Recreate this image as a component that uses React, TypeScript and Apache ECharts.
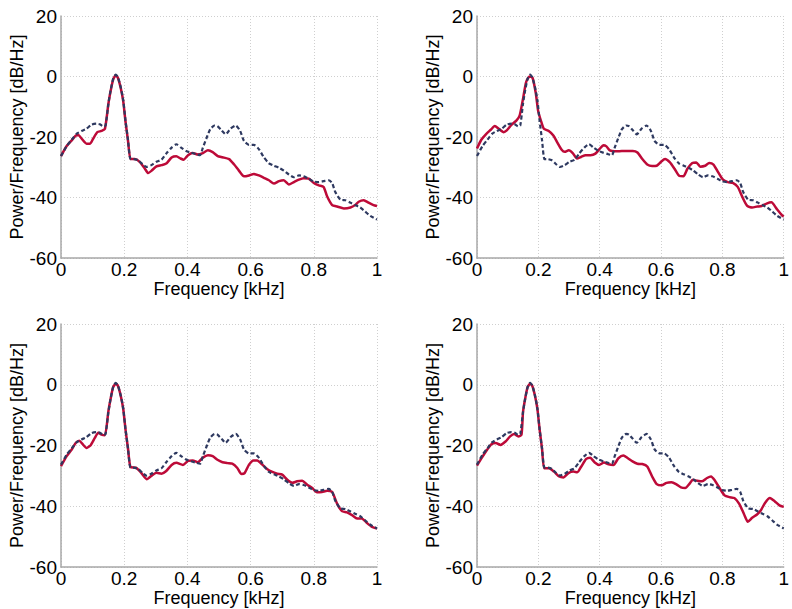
import React, { useEffect, useRef } from "react";
import * as echarts from "echarts";

// Shared reference spectrum (dashed), [frequency kHz, dB/Hz]
const referencePsd: [number, number][] = [
  [0, -26.3], [0.018, -23], [0.034, -20.9], [0.05, -18.9], [0.065, -18], [0.08, -17.3], [0.097, -15.9],
  [0.112, -15.6], [0.123, -15.8], [0.134, -16.5], [0.141, -16.2], [0.15, -9], [0.157, -4.6], [0.165, -0.8],
  [0.173, 0.6], [0.18, -0.2], [0.189, -3.5], [0.197, -7.9], [0.204, -14.5], [0.212, -21], [0.22, -27.3],
  [0.23, -27.3], [0.244, -27.7], [0.258, -29], [0.27, -29.9], [0.286, -29.3], [0.302, -28.2], [0.318, -27.5],
  [0.333, -25.5], [0.35, -23.5], [0.365, -22.4], [0.38, -23.5], [0.396, -24.6], [0.412, -25.2], [0.428, -25.7],
  [0.44, -26], [0.449, -23.5], [0.46, -20.5], [0.472, -17.5], [0.486, -16.2], [0.495, -16.4], [0.508, -17.8],
  [0.521, -19.1], [0.537, -17.2], [0.553, -16.2], [0.567, -18], [0.579, -21.3], [0.595, -22.6], [0.61, -22.6],
  [0.626, -24], [0.642, -26.7], [0.658, -28.7], [0.674, -29.5], [0.69, -30.2], [0.705, -31.1], [0.721, -32.4],
  [0.737, -33.3], [0.753, -32.7], [0.768, -33], [0.784, -33.8], [0.8, -34.7], [0.816, -34.9], [0.831, -34.6],
  [0.847, -34.3], [0.858, -35.2], [0.868, -38.2], [0.884, -40.7], [0.9, -40.9], [0.916, -41.7], [0.931, -42.5],
  [0.947, -43.3], [0.963, -44.7], [0.979, -46.1], [1.0, -47.3],
];

// Top-left (solid red)
const psdTopLeft: [number, number][] = [
  [0, -26.3], [0.018, -23], [0.034, -21.1], [0.047, -19.5], [0.055, -19.3], [0.065, -20.5], [0.081, -22.2],
  [0.092, -22.2], [0.102, -20.5], [0.115, -18.4], [0.128, -18], [0.139, -17.3], [0.15, -9], [0.157, -4.8],
  [0.165, -1], [0.173, 0.3], [0.18, -0.4], [0.189, -3.8], [0.197, -8.2], [0.204, -14.8], [0.212, -21.2],
  [0.22, -27.3], [0.233, -27.3], [0.249, -28.2], [0.265, -30.4], [0.276, -31.9], [0.286, -31.2], [0.302, -29.7],
  [0.318, -29.3], [0.333, -28.8], [0.35, -26.8], [0.365, -26.4], [0.378, -27.1], [0.388, -27.5], [0.402, -26],
  [0.417, -25.3], [0.433, -25.8], [0.449, -25.3], [0.465, -24.4], [0.48, -25], [0.496, -26.3], [0.511, -26.7],
  [0.532, -27.3], [0.548, -29.1], [0.563, -31.1], [0.579, -33], [0.595, -32.7], [0.61, -32.2], [0.626, -32.7],
  [0.642, -33.5], [0.658, -34.3], [0.674, -35.4], [0.69, -34.6], [0.705, -34.3], [0.721, -35.7], [0.737, -34.9],
  [0.753, -34.1], [0.768, -33.6], [0.784, -33.8], [0.8, -35.2], [0.816, -36], [0.831, -36.5], [0.842, -39.6],
  [0.858, -42.5], [0.874, -43], [0.895, -43.6], [0.916, -43.3], [0.931, -42.5], [0.942, -41.4], [0.958, -40.9],
  [0.973, -41.7], [0.989, -42.5], [1.0, -42.8],
];

// Top-right (solid red)
const psdTopRight: [number, number][] = [
  [0, -23.8], [0.014, -20.9], [0.029, -19.1], [0.045, -17.6], [0.058, -16.4], [0.071, -17.3], [0.087, -18.4],
  [0.097, -17.8], [0.113, -15.9], [0.129, -14.5], [0.139, -12.9], [0.15, -7.4], [0.16, -1.9], [0.171, 0],
  [0.181, -0.4], [0.192, -5.7], [0.199, -11.2], [0.208, -14.5], [0.218, -17.3], [0.234, -18], [0.249, -19.5],
  [0.263, -22], [0.276, -24.2], [0.286, -24.9], [0.299, -24.4], [0.312, -25.3], [0.326, -27.1], [0.339, -26.6],
  [0.354, -26], [0.37, -26], [0.386, -25.5], [0.401, -23.8], [0.412, -22.7], [0.422, -23.1], [0.433, -24.4],
  [0.449, -24.7], [0.464, -24.7], [0.48, -24.6], [0.492, -24.6], [0.508, -24.6], [0.523, -25.1], [0.539, -27.3],
  [0.555, -29.1], [0.571, -29.6], [0.586, -29.5], [0.602, -28], [0.613, -27.3], [0.629, -28.4], [0.644, -30.5],
  [0.66, -32.9], [0.673, -33], [0.686, -30.5], [0.702, -28.6], [0.715, -28.4], [0.728, -29.8], [0.744, -29.5],
  [0.757, -28.6], [0.771, -29.1], [0.786, -31.6], [0.802, -34.1], [0.818, -34.9], [0.834, -35.2], [0.85, -36.5],
  [0.865, -39.8], [0.881, -42.8], [0.897, -43.3], [0.913, -43], [0.928, -42.8], [0.944, -42], [0.96, -41.6],
  [0.976, -43.6], [0.994, -45.8], [1.0, -46.3],
];

// Bottom-left (solid red)
const psdBottomLeft: [number, number][] = [
  [0, -26.8], [0.018, -23.5], [0.034, -21.3], [0.047, -19.1], [0.058, -18.4], [0.068, -19.5], [0.081, -20.8],
  [0.094, -19.9], [0.107, -17.5], [0.118, -15.8], [0.128, -16.4], [0.139, -16.6], [0.15, -8.7], [0.157, -4.6],
  [0.165, -0.8], [0.173, 0.3], [0.18, -0.3], [0.189, -3.6], [0.197, -8], [0.204, -14.6], [0.212, -21],
  [0.22, -27.1], [0.237, -27.3], [0.254, -29], [0.272, -31.1], [0.286, -30], [0.302, -29], [0.318, -29.3],
  [0.333, -28.4], [0.35, -26.4], [0.365, -25.7], [0.386, -26.4], [0.402, -25.1], [0.417, -24.9], [0.433, -25.5],
  [0.449, -24], [0.465, -23.2], [0.48, -23.5], [0.495, -24.7], [0.511, -25.5], [0.527, -25.8], [0.542, -26],
  [0.558, -27.4], [0.571, -29.4], [0.581, -29.1], [0.595, -26.3], [0.609, -24.9], [0.621, -24.9], [0.637, -26.3],
  [0.653, -27.8], [0.669, -28.7], [0.684, -29.3], [0.7, -29.6], [0.716, -31.3], [0.732, -32.3], [0.747, -31.8],
  [0.763, -31.6], [0.779, -32.9], [0.795, -34], [0.81, -35.4], [0.826, -35.3], [0.842, -34.9], [0.858, -35.3],
  [0.874, -39.2], [0.889, -41.6], [0.905, -42], [0.921, -42.9], [0.937, -44], [0.952, -44], [0.968, -45.5],
  [0.984, -46.8], [1.0, -47.3],
];

// Bottom-right (solid red)
const psdBottomRight: [number, number][] = [
  [0, -26.6], [0.016, -24], [0.033, -21.4], [0.047, -19.6], [0.061, -19.2], [0.077, -19.8], [0.093, -18.7],
  [0.108, -17], [0.121, -16.2], [0.135, -17], [0.145, -16.5], [0.15, -9], [0.157, -4.6], [0.165, -0.8],
  [0.173, 0.3], [0.18, -0.3], [0.189, -3.6], [0.197, -8], [0.204, -14.6], [0.212, -21], [0.219, -27.5],
  [0.235, -27.5], [0.251, -28.6], [0.268, -30.2], [0.282, -30.5], [0.298, -29.1], [0.314, -28.6], [0.327, -28.8],
  [0.34, -26.9], [0.356, -24.4], [0.369, -24], [0.384, -25.6], [0.398, -26.4], [0.414, -25.6], [0.429, -26.2],
  [0.445, -26.4], [0.461, -24.2], [0.477, -23.3], [0.492, -24.2], [0.507, -25.2], [0.523, -26], [0.539, -26.1],
  [0.555, -26.9], [0.571, -30.2], [0.586, -32.7], [0.602, -33.1], [0.618, -32.3], [0.634, -32.1], [0.649, -32.7],
  [0.665, -33.8], [0.679, -34], [0.692, -32.7], [0.704, -31.3], [0.718, -31.6], [0.734, -31.8], [0.75, -30.7],
  [0.763, -30.2], [0.776, -31.6], [0.792, -34.2], [0.807, -36.4], [0.823, -37], [0.839, -37.3], [0.855, -39.2],
  [0.871, -42.7], [0.883, -45.1], [0.897, -43.8], [0.913, -42.7], [0.925, -41.4], [0.939, -38.9], [0.955, -37.3],
  [0.971, -38.4], [0.986, -39.7], [1.0, -40.2],
];

const panels = [psdTopLeft, psdTopRight, psdBottomLeft, psdBottomRight];
const xTitle = "Frequency [kHz]";
const yTitle = "Power/Frequency [dB/Hz]";

const FONT = "'Liberation Sans', Arial, Helvetica, sans-serif";
const RED = "#bd0a38";
const DASH = "#2e3960";

export default function App() {
  const ref = useRef<HTMLDivElement>(null);

  useEffect(() => {
    if (!ref.current) return;
    const chart = echarts.init(ref.current, null, { renderer: "svg" });

    const gridPos = [
      { left: 61, top: 16, width: 316, height: 242 },
      { left: 477, top: 16, width: 316, height: 242 },
      { left: 61, top: 324, width: 316, height: 243 },
      { left: 477, top: 324, width: 316, height: 243 },
    ];

    const grids = gridPos.map((g) => ({ ...g, containLabel: false }));
    const xAxes = gridPos.map((_, i) => ({
      type: "value",
      gridIndex: i,
      min: 0,
      max: 1,
      interval: 0.2,
      name: xTitle,
      nameLocation: "middle",
      nameGap: 20,
      nameTextStyle: { fontFamily: FONT, fontSize: 18, color: "#000" },
      axisLine: { show: true, onZero: false, lineStyle: { color: "#a8a8a8", width: 1.5 } },
      axisTick: { show: false },
      axisLabel: { fontFamily: FONT, fontSize: 19, color: "#000", margin: 2 },
      splitLine: { show: true, lineStyle: { color: "#cfcfcf", type: [1, 2], width: 1 } },
    }));
    const yAxes = gridPos.map((_, i) => ({
      type: "value",
      gridIndex: i,
      min: -60,
      max: 20,
      interval: 20,
      name: yTitle,
      nameLocation: "middle",
      nameGap: 33,
      nameTextStyle: { fontFamily: FONT, fontSize: 18, color: "#000" },
      axisLine: { show: true, onZero: false, lineStyle: { color: "#a8a8a8", width: 1.5 } },
      axisTick: { show: false },
      axisLabel: { fontFamily: FONT, fontSize: 19, color: "#000", margin: 4 },
      splitLine: { show: true, lineStyle: { color: "#cfcfcf", type: [1, 2], width: 1 } },
    }));

    const series: any[] = [];
    panels.forEach((data, i) => {
      series.push({
        type: "line",
        xAxisIndex: i,
        yAxisIndex: i,
        data: referencePsd,
        showSymbol: false,
        smooth: 0.2,
        lineStyle: { color: DASH, width: 2.2, type: [4, 2.5] },
        z: 3,
      });
      series.push({
        type: "line",
        xAxisIndex: i,
        yAxisIndex: i,
        data,
        showSymbol: false,
        smooth: 0.2,
        lineStyle: { color: RED, width: 2.5 },
        z: 2,
      });
    });

    chart.setOption({
      animation: false,
      backgroundColor: "#ffffff",
      grid: grids,
      xAxis: xAxes,
      yAxis: yAxes,
      series,
    });

    return () => chart.dispose();
  }, []);

  return (
    <div
      ref={ref}
      style={{ position: "absolute", left: 0, top: 0, width: 792, height: 609, background: "#fff" }}
    />
  );
}
